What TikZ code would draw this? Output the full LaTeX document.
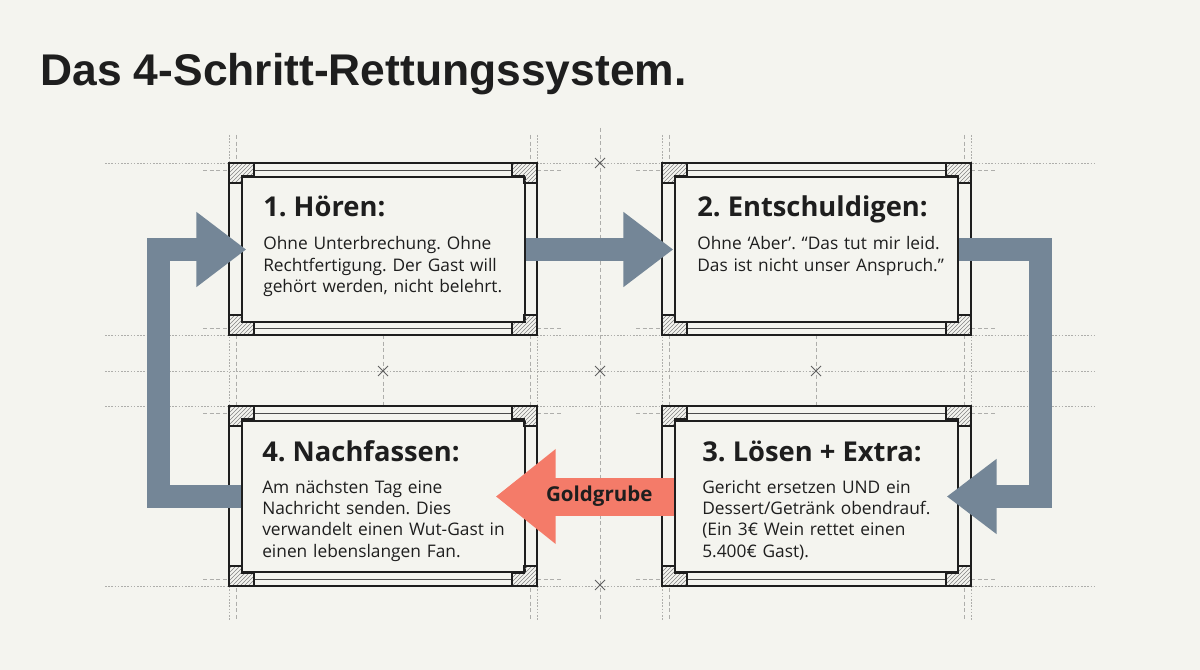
\documentclass[tikz,border=0pt]{standalone}
\usepackage{fontspec}
\setmainfont{Open Sans}
\newfontfamily\titlefont{Liberation Sans}
\usetikzlibrary{arrows.meta,patterns,calc,fit}
\definecolor{bg}{HTML}{F4F4EF}
\definecolor{ink}{HTML}{1E1E1E}
\definecolor{slate}{HTML}{748697}
\definecolor{salmon}{HTML}{F47B69}
\definecolor{gridc}{HTML}{AEAEAB}
\frenchspacing
\newcommand\myframe[4]{%
  \draw[frameline] (#1,#2) rectangle (#3,#4);
  \draw[midline] ({#1+25},{#2+7}) -- ({#3-25},{#2+7});
  \draw[midline] ({#1+25},{#4-7}) -- ({#3-25},{#4-7});
  \draw[hatch] (#1,#2) -- ++(25,0) -- ++(0,13) -- ++(-12,0) -- ++(0,7) -- ++(-13,0) -- cycle;
  \draw[hatch] (#3,#2) -- ++(-25,0) -- ++(0,13) -- ++(12,0) -- ++(0,7) -- ++(13,0) -- cycle;
  \draw[hatch] (#1,#4) -- ++(25,0) -- ++(0,-13) -- ++(-12,0) -- ++(0,-7) -- ++(-13,0) -- cycle;
  \draw[hatch] (#3,#4) -- ++(-25,0) -- ++(0,-13) -- ++(12,0) -- ++(0,-7) -- ++(13,0) -- cycle;
}
\begin{document}
\begin{tikzpicture}[x=0.75pt,y=-0.75pt,
  gdot/.style={draw=gridc, line width=0.6pt, dash pattern=on 1.2pt off 1.2pt},
  gdash/.style={draw=gridc, line width=0.6pt, dash pattern=on 3pt off 2pt},
  xmk/.style={draw=ink!70, line width=0.6pt},
  innerbox/.style={draw=ink, line width=1.1pt, fill=bg, inner sep=0pt},
  frameline/.style={draw=ink, line width=1.3pt},
  midline/.style={draw=ink!80, line width=0.7pt},
  hatch/.style={draw=ink, line width=0.9pt, pattern=north east lines, pattern color=ink!55},
  flow/.style={draw=slate, line width=17.25pt, line join=miter, -{Triangle[length=37.5pt,width=54pt]}},
  gold/.style={draw=salmon, line width=28.5pt, -{Triangle[length=45pt,width=68.25pt]}},
  goldlabel/.style={text=ink, font=\fontsize{15.4pt}{18pt}\selectfont\bfseries},
  maintitle/.style={text=ink, font=\titlefont\fontsize{33.3pt}{38pt}\selectfont\bfseries, inner sep=0pt},
  htitle/.style={text=ink, font=\fontsize{20.5pt}{24pt}\selectfont\bfseries, inner sep=0pt},
  body/.style={text=ink, font=\fontsize{13pt}{16.1pt}\selectfont, inner sep=0pt, text width=215pt, align=left}
]
\fill[bg] (0,0) rectangle (1200,670);
\useasboundingbox (0,0) rectangle (1200,670);
% grid
\foreach \y in {163,335,371,406,586} \draw[gdot] (105,\y) -- (1096,\y);
\foreach \x in {229,537,662,971} \draw[gdot] (\x,135) -- (\x,620);
\foreach \x in {236,530,669,964} \draw[gdash] (\x,135) -- (\x,620);
\foreach \x in {383,816} \draw[gdash] (\x,335) -- (\x,406);
\draw[gdash] (600,128) -- (600,620);
\foreach \y in {170,328,413,579}
  \foreach \a/\b in {203/229,537/563,636/662,971/997}
    \draw[gdash] (\a,\y) -- (\b,\y);
\foreach \xx/\yy in {600/163,383/371,600/371,816/371,600/585}
  \draw[xmk] (\xx,\yy) ++(-5,-5) -- ++(10,10) (\xx,\yy) ++(-5,5) -- ++(10,-10);
% frame backgrounds
\foreach \a/\b/\c/\d in {229/163/537/335,662/163/971/335,229/406/537/586,662/406/971/586}
  \fill[bg] (\a,\b) rectangle (\c,\d);
% inner boxes
\node[innerbox, fit={(242,177)(525,322)}] (b1) {};
\node[innerbox, fit={(675,177)(958,322)}] (b2) {};
\node[innerbox, fit={(675,421)(958,572)}] (b3) {};
\node[innerbox, fit={(242,421)(525,572)}] (b4) {};
% frames
\myframe{229}{163}{537}{335}
\myframe{662}{163}{971}{335}
\myframe{229}{406}{537}{586}
\myframe{662}{406}{971}{586}
% arrows
\draw[flow] (b1.east) -- ($(b2.west)+(-1,0)$);
\draw[flow] (b2.east) -- ++(82,0) |- ($(b3.east)+(-12,0)$);
\draw[flow] (b4.west) -- ++(-83,0) |- ($(b1.west)+(5,0)$);
\draw[gold] (b3.west) -- ($(b4.east)+(-30,0)$) node[pos=0.42, goldlabel] (gl) {Goldgrube};
% title
\node[maintitle, anchor=base west] (title) at (40,86) {Das 4-Schritt-Rettungssystem.};
% texts
\node[htitle, anchor=base west] (t1) at (263,217) {1. Hören:};
\node[body, anchor=base west] (d1) at (263,250) {Ohne Unterbrechung. Ohne\\Rechtfertigung. Der Gast will\\gehört werden, nicht belehrt.};
\node[htitle, anchor=base west] (t2) at (697,217) {2. Entschuldigen:};
\node[body, anchor=base west] (d2) at (697,250) {Ohne ‘Aber’. “Das tut mir leid.\\Das ist nicht unser Anspruch.”};
\node[htitle, anchor=base west] (t4) at (262,461) {4. Nachfassen:};
\node[body, anchor=base west] (d4) at (262,493) {Am nächsten Tag eine\\Nachricht senden. Dies\\verwandelt einen Wut-Gast in\\einen lebenslangen Fan.};
\node[htitle, anchor=base west] (t3) at (702,461) {3. Lösen + Extra:};
\node[body, anchor=base west] (d3) at (702,493) {Gericht ersetzen UND ein\\Dessert/Getränk obendrauf.\\(Ein 3€ Wein rettet einen\\5.400€ Gast).};
\end{tikzpicture}
\end{document}
